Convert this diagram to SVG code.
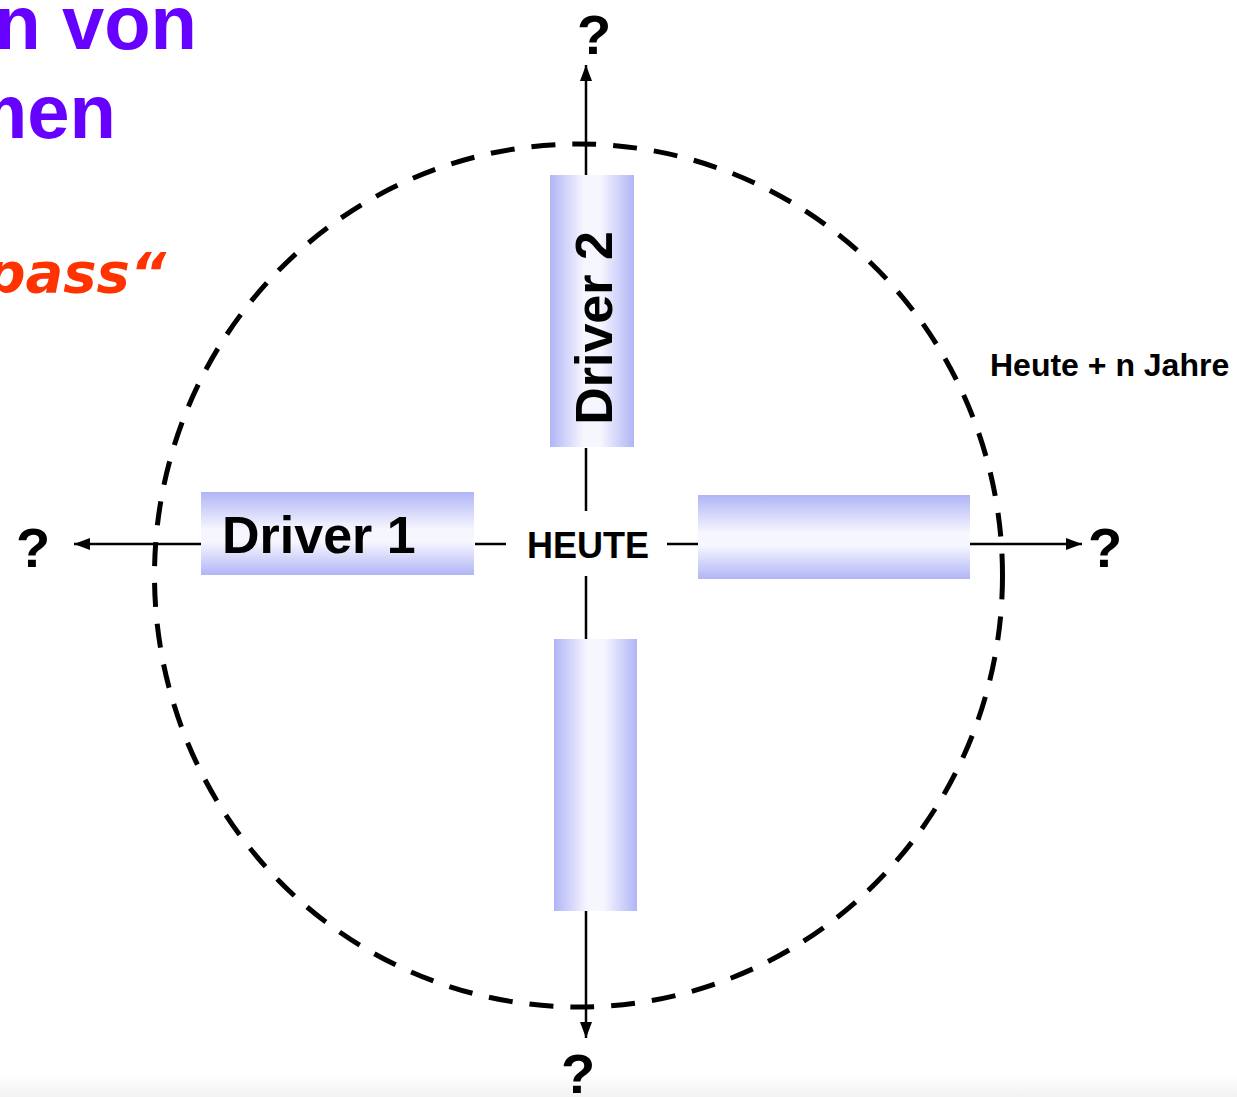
<svg xmlns="http://www.w3.org/2000/svg" width="1237" height="1097" viewBox="0 0 1237 1097">
<defs>
<style>
.lbl{font-family:"Liberation Sans",Arial,sans-serif;font-weight:bold;fill:#000}
.q{font-family:"Liberation Sans",Arial,sans-serif;font-weight:bold;font-size:56px;text-anchor:middle;fill:#000}
.ax{stroke:#000;stroke-width:2.5;fill:none}
.title{font-family:"Liberation Sans",Arial,sans-serif;font-weight:bold;font-size:76px;fill:#6600ff;text-anchor:end}
</style>
<linearGradient id="gv" x1="0" y1="0" x2="0" y2="1">
<stop offset="0" stop-color="#b1b5f5"/>
<stop offset="0.45" stop-color="#f6f6ff"/>
<stop offset="0.6" stop-color="#f6f6ff"/>
<stop offset="1" stop-color="#b1b5f5"/>
</linearGradient>
<linearGradient id="gh" x1="0" y1="0" x2="1" y2="0">
<stop offset="0" stop-color="#b1b5f5"/>
<stop offset="0.4" stop-color="#f6f6ff"/>
<stop offset="0.6" stop-color="#f6f6ff"/>
<stop offset="1" stop-color="#b1b5f5"/>
</linearGradient>
<linearGradient id="gb" x1="0" y1="0" x2="0" y2="1">
<stop offset="0" stop-color="#ffffff"/>
<stop offset="1" stop-color="#f2f2f2"/>
</linearGradient>
<marker id="ah" markerUnits="userSpaceOnUse" markerWidth="17" markerHeight="12" refX="16" refY="6" orient="auto">
<path d="M0,0 L16,6 L0,12 z" fill="#000"/>
</marker>
</defs>
<rect width="1237" height="1097" fill="#fff"/>
<rect x="0" y="1075" width="1237" height="22" fill="url(#gb)"/>

<g id="title">
<text class="title" x="197" y="49">n von</text>
<text class="title" x="116" y="138">men</text>
<text x="166" y="292" font-family="'DejaVu Sans',sans-serif" font-weight="bold" font-style="italic" font-size="56" fill="#ff3300" text-anchor="end">pass“</text>
</g>

<g id="horizon">
<ellipse cx="578.5" cy="575.5" rx="424" ry="431.5" fill="none" stroke="#000" stroke-width="5" stroke-dasharray="24 17"/>
<text class="lbl" x="990" y="376" font-size="32">Heute + n Jahre</text>
</g>

<g id="connectors">
<line class="ax" x1="586" y1="175" x2="586" y2="65" marker-end="url(#ah)"/>
<line class="ax" x1="586" y1="448" x2="586" y2="511"/>
<line class="ax" x1="586" y1="576" x2="586" y2="639"/>
<line class="ax" x1="586" y1="911" x2="586" y2="1038" marker-end="url(#ah)"/>
<line class="ax" x1="201" y1="544" x2="74" y2="544" marker-end="url(#ah)"/>
<line class="ax" x1="475" y1="544" x2="506" y2="544"/>
<line class="ax" x1="667" y1="544" x2="698" y2="544"/>
<line class="ax" x1="970" y1="544" x2="1082" y2="544" marker-end="url(#ah)"/>
</g>

<g id="heute">
<text class="lbl" x="588" y="558" font-size="36" text-anchor="middle">HEUTE</text>
</g>

<g id="driver1">
<rect x="201" y="492" width="273" height="83" fill="url(#gv)"/>
<text class="lbl" x="222" y="553" font-size="52">Driver 1</text>
</g>

<g id="driver2">
<rect x="550" y="175" width="84" height="272" fill="url(#gh)"/>
<text class="lbl" transform="translate(612,328) rotate(-90)" x="0" y="0" font-size="52" text-anchor="middle">Driver 2</text>
</g>

<g id="driver3">
<rect x="698" y="495" width="272" height="84" fill="url(#gv)"/>
</g>

<g id="driver4">
<rect x="554" y="639" width="83" height="272" fill="url(#gh)"/>
</g>

<g id="questions">
<text class="q" x="594" y="54">?</text>
<text class="q" x="33" y="567">?</text>
<text class="q" x="1105" y="567">?</text>
<text class="q" x="578" y="1093">?</text>
</g>
</svg>
